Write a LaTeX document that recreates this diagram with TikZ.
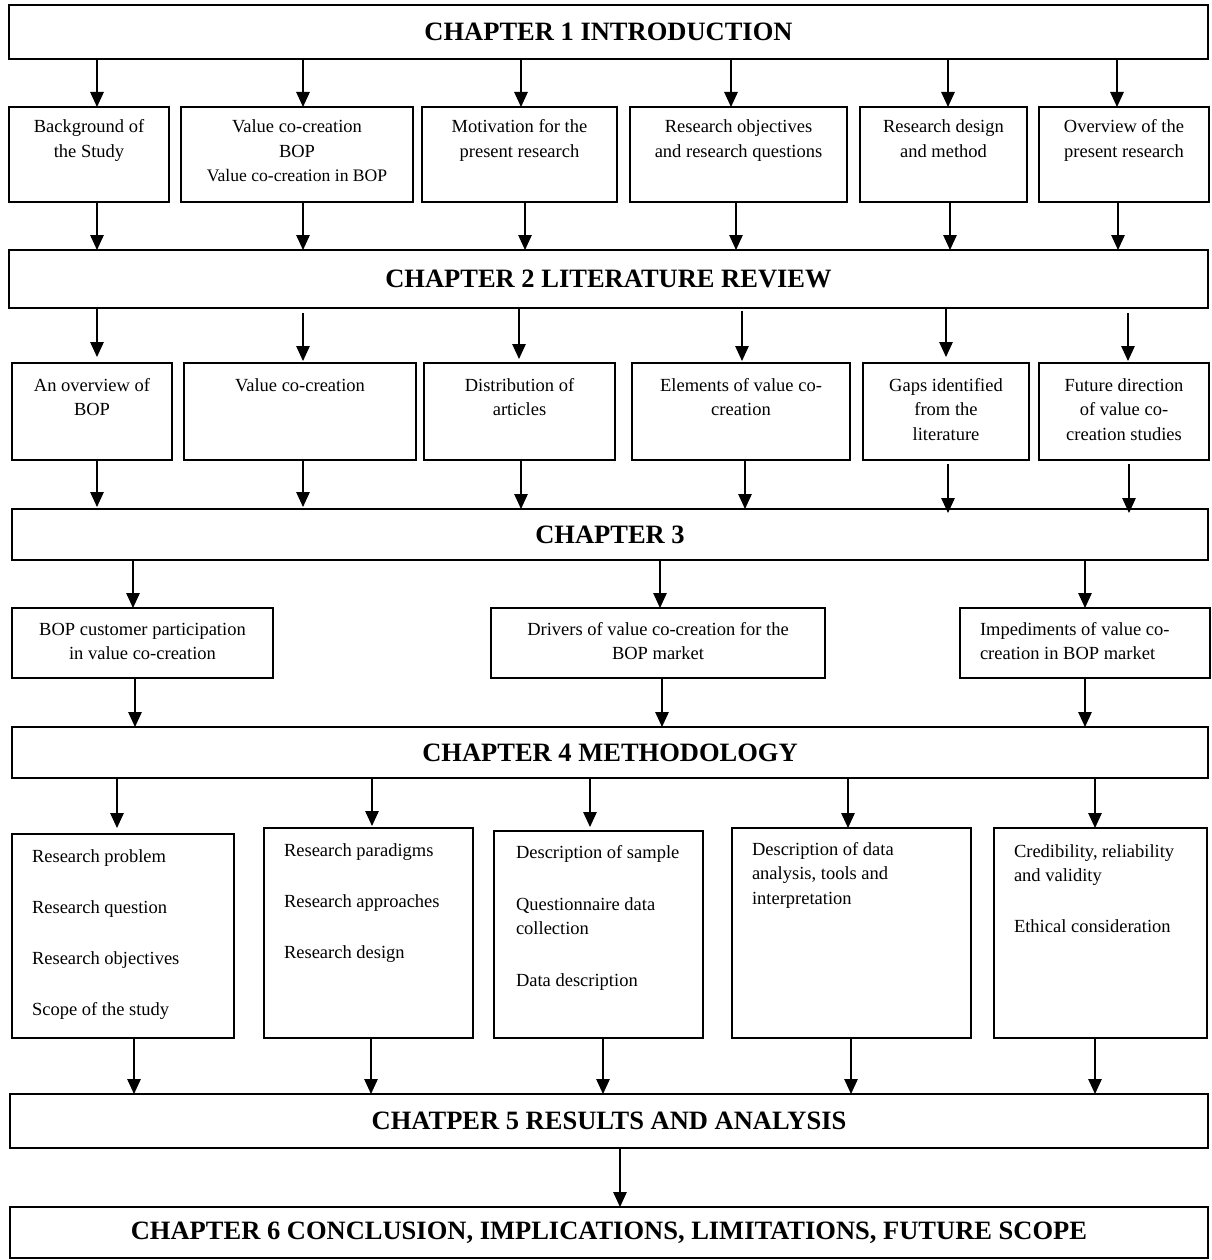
\documentclass[tikz,border=0pt]{standalone}
\usepackage{fontspec}
\setmainfont{Liberation Serif}
\usetikzlibrary{arrows.meta}

% text sizes
\newcommand\bodyfont{\fontsize{18.5}{24.5}\selectfont}
\newcommand\rowonefont{\fontsize{18.5}{25}\selectfont}
\newcommand\headfont{\fontsize{26.5}{30}\selectfont\bfseries}

\tikzset{
  box/.style={draw=black, line width=1.2pt, fill=white, inner sep=0pt, outer sep=0pt},
  head/.style={box, font=\headfont},
  txt/.style={inner sep=0pt, outer sep=0pt, font=\bodyfont},
  arr/.style={-{Triangle[width=13.5pt,length=15pt]}, line width=1.2pt, draw=black},
}

% empty framed box from its top-left and bottom-right corners
\newcommand\mkbox[5]{\node[box, anchor=north west, minimum width={#4-#2}, minimum height={#5-#3}] (#1) at (#2,#3) {};}
% chapter banner with its title
\newcommand\mkhead[6]{\node[head, anchor=north west, minimum width={#4-#2}, minimum height={#5-#3}] (#1) at (#2,#3) {#6};}
% centred text block, first baseline at the given point
\newcommand\ctext[4]{\node[txt, anchor=base] (#1) at (#2,#3) {\parbox[t]{400pt}{\centering #4}};}
% left-aligned text block, first baseline at the given point
\newcommand\ltext[4]{\node[txt, anchor=base west] (#1) at (#2,#3) {\parbox[t]{300pt}{\raggedright #4}};}
% vertical arrow at a given x between two nodes
\newcommand\link[4][]{\draw[arr,#1] (#2,0 |- #3.south) -- (#2,0 |- #4.north);}

\begin{document}
\begin{tikzpicture}[x=1pt, y=-1pt]
\fill[white] (0,0) rectangle (1211,1260);
\useasboundingbox (0,0) rectangle (1211,1260);

% ---------- Chapter 1 ----------
\mkhead{ch1}{9}{5}{1208}{59}{CHAPTER 1 INTRODUCTION}

\mkbox{r1a}{9}{107}{169}{202}
\mkbox{r1b}{181}{107}{413}{202}
\mkbox{r1c}{422}{107}{617}{202}
\mkbox{r1d}{630}{107}{847}{202}
\mkbox{r1e}{860}{107}{1027}{202}
\mkbox{r1f}{1039}{107}{1209}{202}

\begin{scope}[every node/.append style={font=\rowonefont}]
\ctext{t1a}{89}{133}{Background of\\the Study}
\ctext{t1b}{297}{133}{Value co-creation\\BOP\\{\fontsize{17.6}{25}\selectfont Value co-creation in BOP}}
\ctext{t1c}{519.5}{133}{Motivation for the\\present research}
\ctext{t1d}{738.5}{133}{Research objectives\\and research questions}
\ctext{t1e}{943.5}{133}{Research design\\and method}
\ctext{t1f}{1124}{133}{Overview of the\\present research}
\end{scope}

\link{97}{ch1}{r1a}
\link{303}{ch1}{r1b}
\link{521}{ch1}{r1c}
\link{731}{ch1}{r1d}
\link{948}{ch1}{r1e}
\link{1117}{ch1}{r1f}

% ---------- Chapter 2 ----------
\mkhead{ch2}{9}{250}{1208}{308}{CHAPTER 2 LITERATURE REVIEW}

\link{97}{r1a}{ch2}
\link{303}{r1b}{ch2}
\link{525}{r1c}{ch2}
\link{736}{r1d}{ch2}
\link{950}{r1e}{ch2}
\link{1118}{r1f}{ch2}

\mkbox{r2a}{12}{363}{172}{460}
\mkbox{r2b}{184}{363}{416}{460}
\mkbox{r2c}{424}{363}{615}{460}
\mkbox{r2d}{632}{363}{850}{460}
\mkbox{r2e}{863}{363}{1029}{460}
\mkbox{r2f}{1039}{363}{1209}{460}

\ctext{t2a}{92}{391}{An overview of\\BOP}
\ctext{t2b}{300}{391}{Value co-creation}
\ctext{t2c}{519.5}{391}{Distribution of\\articles}
\ctext{t2d}{741}{391}{Elements of value co-\\creation}
\ctext{t2e}{946}{391}{Gaps identified\\from the\\literature}
\ctext{t2f}{1124}{391}{Future direction\\of value co-\\creation studies}

\link[shorten >=6pt]{97}{ch2}{r2a}
\link[shorten <=5pt, shorten >=2pt]{303}{ch2}{r2b}
\link[shorten >=4pt]{519}{ch2}{r2c}
\link[shorten <=3pt, shorten >=2pt]{742}{ch2}{r2d}
\link[shorten >=6pt]{946}{ch2}{r2e}
\link[shorten <=5pt, shorten >=2pt]{1128}{ch2}{r2f}

% ---------- Chapter 3 ----------
\mkhead{ch3}{12}{509}{1208}{560}{CHAPTER 3}

\link[shorten >=2pt]{97}{r2a}{ch3}
\link[shorten >=2pt]{303}{r2b}{ch3}
\link{521}{r2c}{ch3}
\link{745}{r2d}{ch3}
\link[shorten <=4pt, shorten >=-4pt]{948}{r2e}{ch3}
\link[shorten <=4pt, shorten >=-4pt]{1129}{r2f}{ch3}

\mkbox{r3a}{12}{608}{273}{678}
\mkbox{r3b}{491}{608}{825}{678}
\mkbox{r3c}{960}{608}{1210}{678}

\ctext{t3a}{142.5}{635}{BOP customer participation\\in value co-creation}
\ctext{t3b}{658}{635}{Drivers of value co-creation for the\\BOP market}
\ltext{t3c}{980}{635}{Impediments of value co-\\creation in BOP market}

\link{133}{ch3}{r3a}
\link{660}{ch3}{r3b}
\link{1085}{ch3}{r3c}

% ---------- Chapter 4 ----------
\mkhead{ch4}{12}{727}{1208}{778}{CHAPTER 4 METHODOLOGY}

\link{135}{r3a}{ch4}
\link{662}{r3b}{ch4}
\link{1085}{r3c}{ch4}

\mkbox{r4a}{12}{834}{234}{1038}
\mkbox{r4b}{264}{828}{473}{1038}
\mkbox{r4c}{494}{831}{703}{1038}
\mkbox{r4d}{732}{828}{971}{1038}
\mkbox{r4e}{994}{828}{1207}{1038}

\ltext{t4a}{32}{862}{Research problem\\[26.5pt]Research question\\[27pt]Research objectives\\[26pt]Scope of the study}
\ltext{t4b}{284}{856}{Research paradigms\\[26.5pt]Research approaches\\[26.5pt]Research design}
\ltext{t4c}{516}{858}{Description of sample\\[27.5pt]Questionnaire data\\collection\\[27.5pt]Data description}
\ltext{t4d}{752}{855}{Description of data\\analysis, tools and\\interpretation}
\ltext{t4e}{1014}{857}{Credibility, reliability\\and validity\\[26pt]Ethical consideration}

\link[shorten >=6pt]{117}{ch4}{r4a}
\link[shorten >=2pt]{372}{ch4}{r4b}
\link[shorten >=4pt]{590}{ch4}{r4c}
\link{848}{ch4}{r4d}
\link{1095}{ch4}{r4e}

% ---------- Chapters 5 and 6 ----------
\mkhead{ch5}{10}{1094}{1208}{1148}{CHATPER 5 RESULTS AND ANALYSIS}

\link{134}{r4a}{ch5}
\link{371}{r4b}{ch5}
\link{603}{r4c}{ch5}
\link{851}{r4d}{ch5}
\link{1095}{r4e}{ch5}

\mkhead{ch6}{10}{1207}{1208}{1258}{CHAPTER 6 CONCLUSION, IMPLICATIONS, LIMITATIONS, FUTURE SCOPE}

\link{620}{ch5}{ch6}
\end{tikzpicture}
\end{document}
